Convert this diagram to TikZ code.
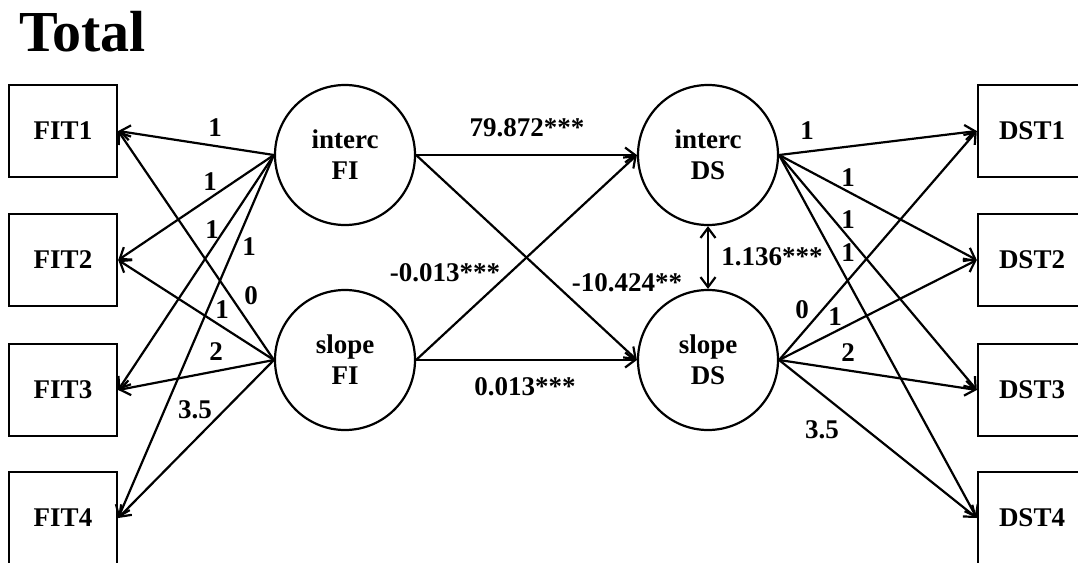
\documentclass[tikz,border=0pt]{standalone}
\usepackage{fontspec}
\setmainfont{Liberation Serif}
\usetikzlibrary{arrows.meta}
\begin{document}
\begin{tikzpicture}[x=1pt,y=-1pt,
 box/.style={draw,line width=2.4pt,minimum width=108pt,minimum height=92pt,inner sep=0pt,font=\fontsize{27}{31}\selectfont\bfseries},
 lat/.style={draw,circle,line width=2.2pt,minimum size=140pt,inner sep=0pt,align=center,font=\fontsize{27}{31}\selectfont\bfseries},
 arr/.style={line width=2.2pt,-{Straight Barb[length=10pt,width=15pt]}},
 darr/.style={line width=2.2pt,{Straight Barb[length=10pt,width=15pt]}-{Straight Barb[length=10pt,width=15pt]}},
 lab/.style={font=\fontsize{27}{31}\selectfont\bfseries,inner sep=0pt}]
\useasboundingbox (0,0) rectangle (1078,562);
\node[anchor=base west,inner sep=0pt,font=\fontsize{58}{62}\selectfont\bfseries] (title) at (19,51) {Total};
% observed
\node[box] (FIT1) at (63,131) {FIT1};
\node[box] (FIT2) at (63,260) {FIT2};
\node[box] (FIT3) at (63,390) {FIT3};
\node[box] (FIT4) at (63,518) {FIT4};
\node[box] (DST1) at (1032,131) {DST1};
\node[box] (DST2) at (1032,260) {DST2};
\node[box] (DST3) at (1032,390) {DST3};
\node[box] (DST4) at (1032,518) {DST4};
% latent
\node[lat] (iFI) at (345,155) {interc\\FI};
\node[lat] (sFI) at (345,360) {slope\\FI};
\node[lat] (iDS) at (708,155) {interc\\DS};
\node[lat] (sDS) at (708,360) {slope\\DS};
% loadings
\foreach \t in {FIT1,FIT2,FIT3,FIT4}{
  \draw[arr] (iFI.west) -- (\t.east);
  \draw[arr] (sFI.west) -- (\t.east);
}
\foreach \t in {DST1,DST2,DST3,DST4}{
  \draw[arr] (iDS.east) -- (\t.west);
  \draw[arr] (sDS.east) -- (\t.west);
}
% structural
\draw[arr] (iFI.east) -- (iDS.west);
\draw[arr] (iFI.east) -- (sDS.west);
\draw[arr] (sFI.east) -- (iDS.west);
\draw[arr] (sFI.east) -- (sDS.west);
\draw[darr] (iDS.south) -- (sDS.north);
% labels left
\node[lab] (a1) at (215,128) {1};
\node[lab] (a2) at (210,182) {1};
\node[lab] (a3) at (212,230) {1};
\node[lab] (a4) at (249,247) {1};
\node[lab] (b1) at (251,296) {0};
\node[lab] (b2) at (222,310) {1};
\node[lab] (b3) at (216,352) {2};
\node[lab] (b4) at (195,410) {3.5};
% labels right
\node[lab] (c1) at (807,131) {1};
\node[lab] (c2) at (848,178) {1};
\node[lab] (c3) at (848,220) {1};
\node[lab] (c4) at (848,253) {1};
\node[lab] (d1) at (802,310) {0};
\node[lab] (d2) at (835,317) {1};
\node[lab] (d3) at (848,353) {2};
\node[lab] (d4) at (822,430) {3.5};
% labels middle
\node[lab] (m1) at (527,128) {79.872***};
\node[lab] (m2) at (445,273) {-0.013***};
\node[lab] (m3) at (627,283) {-10.424**};
\node[lab] (m4) at (525,387) {0.013***};
\node[lab] (m5) at (772,257) {1.136***};
\end{tikzpicture}
\end{document}
